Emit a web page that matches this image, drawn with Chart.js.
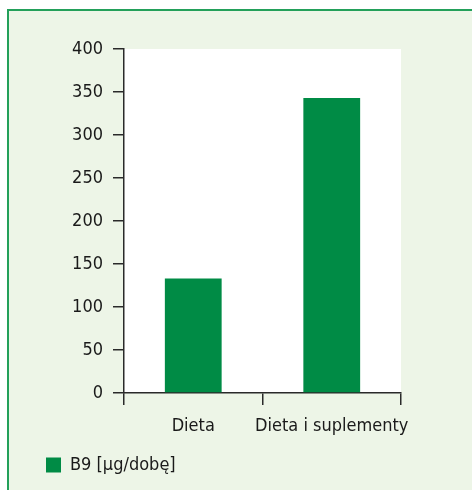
<!DOCTYPE html>
<html>
<head>
<meta charset="utf-8">
<script src="https://cdn.jsdelivr.net/npm/chart.js@4/dist/chart.umd.min.js"></script>
<style>
  html, body { margin: 0; padding: 0; background: #ffffff; }
  #panel {
    position: absolute; left: 7px; top: 9px; width: 465px; height: 481px;
    background: #edf5e7; border-top: 2px solid #23a05a; border-left: 2px solid #23a05a;
    box-sizing: border-box;
  }
  #wrap { position: absolute; left: 0; top: 0; width: 472px; height: 490px; }
</style>
</head>
<body>
<div id="panel"></div>
<div id="wrap"><canvas id="chartCanvas" width="472" height="490"></canvas></div>
<script>
// data
const categories = ['Dieta', 'Dieta i suplementy'];
const b9Values = [133, 343];
const seriesLabel = 'B9 [\u03bcg/dobę]';
const yTicks = [0, 50, 100, 150, 200, 250, 300, 350, 400];

const FONT = "'Liberation Sans Narrow', 'DejaVu Sans Condensed', sans-serif";
const AXIS = '#2a2a2a';

// white plot area behind the bars
const plotBg = {
  id: 'plotBg',
  beforeDraw(chart) {
    const { ctx, chartArea: a } = chart;
    ctx.save();
    ctx.fillStyle = '#ffffff';
    ctx.fillRect(a.left, a.top, a.right - a.left, a.bottom - a.top);
    ctx.restore();
  }
};

Chart.defaults.font.family = FONT;
Chart.defaults.font.size = 18;
Chart.defaults.color = '#1a1a1a';

const ctx = document.getElementById('chartCanvas').getContext('2d');
new Chart(ctx, {
  type: 'bar',
  data: {
    labels: categories,
    datasets: [{
      label: seriesLabel,
      data: b9Values,
      backgroundColor: '#008b45',
      categoryPercentage: 0.82,
      barPercentage: 0.5
    }]
  },
  options: {
    responsive: false,
    animation: false,
    layout: { padding: { left: 36, right: 71, top: 49, bottom: 6 } },
    plugins: {
      tooltip: { enabled: false },
      legend: {
        position: 'bottom',
        align: 'start',
        labels: { boxWidth: 15, boxHeight: 15, padding: 10, font: { size: 18 } }
      }
    },
    scales: {
      y: {
        min: 0, max: 400,
        afterFit(scale) { scale.width = 88; },
        afterBuildTicks(scale) { scale.ticks = yTicks.map(v => ({ value: v })); },
        grid: { drawOnChartArea: false, drawTicks: true, tickLength: 11, color: AXIS, lineWidth: 1.5 },
        border: { display: true, color: AXIS, width: 1.5 },
        ticks: { padding: 10 }
      },
      x: {
        afterFit(scale) { scale.height = 53; },
        grid: { offset: true, drawOnChartArea: false, drawTicks: true, tickLength: 12, color: AXIS, lineWidth: 1.5 },
        border: { display: true, color: AXIS, width: 1.5 },
        ticks: { padding: 11, maxRotation: 0, minRotation: 0, autoSkip: false }
      }
    }
  },
  plugins: [plotBg]
});
</script>
</body>
</html>
